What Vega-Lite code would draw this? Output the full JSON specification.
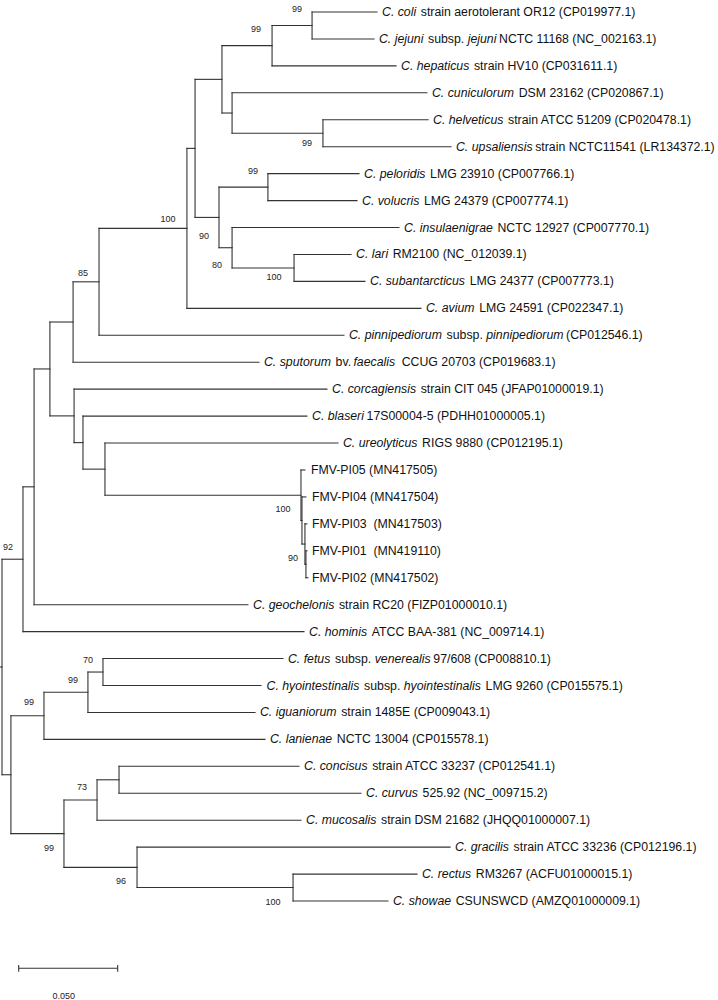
{
"$schema": "https://vega.github.io/schema/vega-lite/v6.json",
"width": 718, "height": 1000, "padding": 0, "autosize": {"type": "none"},
"background": "white",
"config": {"view": {"stroke": null}},
"datasets": {
"nodes": [
{"id":"R","d":0,"pd":-0.0009,"y":25.3125,"y1":21.3125,"y2":29.3125},
{"id":"A92","d":0.0106,"pd":0,"y":21.3125,"y1":18.625,"y2":24},
{"id":"G","d":0.0162,"pd":0.0106,"y":18.625,"y1":14.25,"y2":23},
{"id":"N50","d":0.0242,"pd":0.0162,"y":14.25,"y1":12.5078,"y2":15.9922},
{"id":"N85","d":0.0359,"pd":0.0242,"y":12.5078,"y1":11.0156,"y2":14},
{"id":"P","d":0.0490,"pd":0.0359,"y":11.0156,"y1":9.0313,"y2":13},
{"id":"N100","d":0.0934,"pd":0.0490,"y":9.0313,"y1":6.0625,"y2":12},
{"id":"N195","d":0.0975,"pd":0.0934,"y":6.0625,"y1":3.5,"y2":8.625},
{"id":"N222","d":0.1111,"pd":0.0975,"y":3.5,"y1":2.25,"y2":4.75},
{"id":"N272","d":0.1364,"pd":0.1111,"y":2.25,"y1":1.5,"y2":3},
{"id":"N312","d":0.1566,"pd":0.1364,"y":1.5,"y1":1,"y2":2},
{"id":"coli","d":0.1894,"pd":0.1566,"y":1},
{"id":"jejuni","d":0.1879,"pd":0.1566,"y":2},
{"id":"hepaticus","d":0.1990,"pd":0.1364,"y":3},
{"id":"N232a","d":0.1162,"pd":0.1111,"y":4.75,"y1":4,"y2":5.5},
{"id":"cuniculorum","d":0.2146,"pd":0.1162,"y":4},
{"id":"N323","d":0.1621,"pd":0.1162,"y":5.5,"y1":5,"y2":6},
{"id":"helveticus","d":0.2152,"pd":0.1621,"y":5},
{"id":"upsaliensis","d":0.2268,"pd":0.1621,"y":6},
{"id":"N219","d":0.1096,"pd":0.0975,"y":8.625,"y1":7.5,"y2":9.75},
{"id":"N268","d":0.1343,"pd":0.1096,"y":7.5,"y1":7,"y2":8},
{"id":"peloridis","d":0.1803,"pd":0.1343,"y":7},
{"id":"volucris","d":0.1793,"pd":0.1343,"y":8},
{"id":"N232b","d":0.1162,"pd":0.1096,"y":9.75,"y1":9,"y2":10.5},
{"id":"insulaenigrae","d":0.2005,"pd":0.1162,"y":9},
{"id":"N294","d":0.1475,"pd":0.1162,"y":10.5,"y1":10,"y2":11},
{"id":"lari","d":0.1763,"pd":0.1475,"y":10},
{"id":"subantarcticus","d":0.1833,"pd":0.1475,"y":11},
{"id":"avium","d":0.2116,"pd":0.0934,"y":12},
{"id":"pinnipediorum","d":0.1727,"pd":0.0490,"y":13},
{"id":"sputorum","d":0.1298,"pd":0.0359,"y":14},
{"id":"N74","d":0.0364,"pd":0.0242,"y":15.9922,"y1":15,"y2":16.9844},
{"id":"corcagiensis","d":0.1641,"pd":0.0364,"y":15},
{"id":"N83","d":0.0409,"pd":0.0364,"y":16.9844,"y1":16,"y2":17.9688},
{"id":"blaseri","d":0.1540,"pd":0.0409,"y":16},
{"id":"U","d":0.0520,"pd":0.0409,"y":17.9688,"y1":17,"y2":18.9375},
{"id":"ureolyticus","d":0.1697,"pd":0.0520,"y":17},
{"id":"F1","d":0.1510,"pd":0.0520,"y":18.9375,"y1":18,"y2":19.875},
{"id":"PI05","d":0.1530,"pd":0.1510,"y":18},
{"id":"F2","d":0.1515,"pd":0.1510,"y":19.875,"y1":19,"y2":20.75},
{"id":"PI04","d":0.1535,"pd":0.1515,"y":19},
{"id":"F3","d":0.1530,"pd":0.1515,"y":20.75,"y1":20,"y2":21.5},
{"id":"PI03","d":0.1540,"pd":0.1530,"y":20},
{"id":"F4","d":0.1535,"pd":0.1530,"y":21.5,"y1":21,"y2":22},
{"id":"PI01","d":0.1540,"pd":0.1535,"y":21},
{"id":"PI02","d":0.1545,"pd":0.1535,"y":22},
{"id":"geochelonis","d":0.1242,"pd":0.0162,"y":23},
{"id":"hominis","d":0.1525,"pd":0.0106,"y":24},
{"id":"B","d":0.0045,"pd":0,"y":29.3125,"y1":27.125,"y2":31.5},
{"id":"N44","d":0.0212,"pd":0.0045,"y":27.125,"y1":26.25,"y2":28},
{"id":"N88","d":0.0434,"pd":0.0212,"y":26.25,"y1":25.5,"y2":27},
{"id":"N103","d":0.0510,"pd":0.0434,"y":25.5,"y1":25,"y2":26},
{"id":"fetus","d":0.1419,"pd":0.0510,"y":25},
{"id":"hyointestinalis","d":0.1308,"pd":0.0510,"y":26},
{"id":"iguaniorum","d":0.1278,"pd":0.0434,"y":27},
{"id":"lanienae","d":0.1328,"pd":0.0212,"y":28},
{"id":"N64","d":0.0313,"pd":0.0045,"y":31.5,"y1":30.25,"y2":32.75},
{"id":"N97","d":0.0480,"pd":0.0313,"y":30.25,"y1":29.5,"y2":31},
{"id":"N119","d":0.0591,"pd":0.0480,"y":29.5,"y1":29,"y2":30},
{"id":"concisus","d":0.1500,"pd":0.0591,"y":29},
{"id":"curvus","d":0.1813,"pd":0.0591,"y":30},
{"id":"mucosalis","d":0.1510,"pd":0.0480,"y":31},
{"id":"N137","d":0.0682,"pd":0.0313,"y":32.75,"y1":32,"y2":33.5},
{"id":"gracilis","d":0.2263,"pd":0.0682,"y":32},
{"id":"N293","d":0.1470,"pd":0.0682,"y":33.5,"y1":33,"y2":34},
{"id":"rectus","d":0.2096,"pd":0.1470,"y":33},
{"id":"showae","d":0.1949,"pd":0.1470,"y":34}
],
"labels": [
{"r":1,"x":0.19192,"t":"C. coli","i":1},
{"r":1,"x":0.21151,"t":"strain aerotolerant OR12 (CP019977.1)","i":0},
{"r":2,"x":0.19040,"t":"C. jejuni","i":1},
{"r":2,"x":0.21517,"t":"subsp.","i":0},
{"r":2,"x":0.23520,"t":"jejuni","i":1},
{"r":2,"x":0.25102,"t":"NCTC 11168 (NC_002163.1)","i":0},
{"r":3,"x":0.20152,"t":"C. hepaticus","i":1},
{"r":3,"x":0.23837,"t":"strain HV10 (CP031611.1)","i":0},
{"r":4,"x":0.21717,"t":"C. cuniculorum","i":1},
{"r":4,"x":0.26093,"t":"DSM 23162 (CP020867.1)","i":0},
{"r":5,"x":0.21768,"t":"C. helveticus","i":1},
{"r":5,"x":0.25557,"t":"strain ATCC 51209 (CP020478.1)","i":0},
{"r":6,"x":0.22929,"t":"C. upsaliensis","i":1},
{"r":6,"x":0.26928,"t":"strain NCTC11541 (LR134372.1)","i":0},
{"r":7,"x":0.18283,"t":"C. peloridis","i":1},
{"r":7,"x":0.21622,"t":"LMG 23910 (CP007766.1)","i":0},
{"r":8,"x":0.18182,"t":"C. volucris","i":1},
{"r":8,"x":0.21314,"t":"LMG 24379 (CP007774.1)","i":0},
{"r":9,"x":0.20303,"t":"C. insulaenigrae","i":1},
{"r":9,"x":0.25024,"t":"NCTC 12927 (CP007770.1)","i":0},
{"r":10,"x":0.17879,"t":"C. lari","i":1},
{"r":10,"x":0.19734,"t":"RM2100 (NC_012039.1)","i":0},
{"r":11,"x":0.18586,"t":"C. subantarcticus","i":1},
{"r":11,"x":0.23618,"t":"LMG 24377 (CP007773.1)","i":0},
{"r":12,"x":0.21414,"t":"C. avium","i":1},
{"r":12,"x":0.24098,"t":"LMG 24591 (CP022347.1)","i":0},
{"r":13,"x":0.17525,"t":"C. pinnipediorum","i":1},
{"r":13,"x":0.22453,"t":"subsp.","i":0},
{"r":13,"x":0.24456,"t":"pinnipediorum","i":1},
{"r":13,"x":0.28489,"t":"(CP012546.1)","i":0},
{"r":14,"x":0.13232,"t":"C. sputorum","i":1},
{"r":14,"x":0.16849,"t":"bv.","i":0},
{"r":14,"x":0.17749,"t":"faecalis","i":1},
{"r":14,"x":0.20188,"t":"CCUG 20703 (CP019683.1)","i":0},
{"r":15,"x":0.16667,"t":"C. corcagiensis","i":1},
{"r":15,"x":0.21146,"t":"strain CIT 045 (JFAP01000019.1)","i":0},
{"r":16,"x":0.15657,"t":"C. blaseri","i":1},
{"r":16,"x":0.18412,"t":"17S00004-5 (PDHH01000005.1)","i":0},
{"r":17,"x":0.17222,"t":"C. ureolyticus","i":1},
{"r":17,"x":0.21218,"t":"RIGS 9880 (CP012195.1)","i":0},
{"r":18,"x":0.15606,"t":"FMV-PI05 (MN417505)","i":0},
{"r":19,"x":0.15657,"t":"FMV-PI04 (MN417504)","i":0},
{"r":20,"x":0.15657,"t":"FMV-PI03\u00a0 (MN417503)","i":0},
{"r":21,"x":0.15657,"t":"FMV-PI01\u00a0 (MN419110)","i":0},
{"r":22,"x":0.15657,"t":"FMV-PI02 (MN417502)","i":0},
{"r":23,"x":0.12677,"t":"C. geochelonis","i":1},
{"r":23,"x":0.17018,"t":"strain RC20 (FIZP01000010.1)","i":0},
{"r":24,"x":0.15505,"t":"C. hominis","i":1},
{"r":24,"x":0.18672,"t":"ATCC BAA-381 (NC_009714.1)","i":0},
{"r":25,"x":0.14444,"t":"C. fetus","i":1},
{"r":25,"x":0.16818,"t":"subsp.","i":0},
{"r":25,"x":0.18821,"t":"venerealis","i":1},
{"r":25,"x":0.21784,"t":"97/608 (CP008810.1)","i":0},
{"r":26,"x":0.13359,"t":"C. hyointestinalis","i":1},
{"r":26,"x":0.18287,"t":"subsp.","i":0},
{"r":26,"x":0.20290,"t":"hyointestinalis","i":1},
{"r":26,"x":0.24423,"t":"LMG 9260 (CP015575.1)","i":0},
{"r":27,"x":0.13030,"t":"C. iguaniorum","i":1},
{"r":27,"x":0.17130,"t":"strain 1485E (CP009043.1)","i":0},
{"r":28,"x":0.13535,"t":"C. lanienae","i":1},
{"r":28,"x":0.16910,"t":"NCTC 13004 (CP015578.1)","i":0},
{"r":29,"x":0.15253,"t":"C. concisus","i":1},
{"r":29,"x":0.18696,"t":"strain ATCC 33237 (CP012541.1)","i":0},
{"r":30,"x":0.18384,"t":"C. curvus","i":1},
{"r":30,"x":0.21240,"t":"525.92 (NC_009715.2)","i":0},
{"r":31,"x":0.15354,"t":"C. mucosalis","i":1},
{"r":31,"x":0.19141,"t":"strain DSM 21682 (JHQQ01000007.1)","i":0},
{"r":32,"x":0.22879,"t":"C. gracilis","i":1},
{"r":32,"x":0.25838,"t":"strain ATCC 33236 (CP012196.1)","i":0},
{"r":33,"x":0.21212,"t":"C. rectus","i":1},
{"r":33,"x":0.23930,"t":"RM3267 (ACFU01000015.1)","i":0},
{"r":34,"x":0.19747,"t":"C. showae","i":1},
{"r":34,"x":0.22915,"t":"CSUNSWCD (AMZQ01000009.1)","i":0}
],
"boot": [
{"x":0.14899,"y":0.889,"v":"99"},
{"x":0.12828,"y":1.631,"v":"99"},
{"x":0.15404,"y":5.863,"v":"99"},
{"x":0.12677,"y":6.902,"v":"99"},
{"x":0.08384,"y":8.684,"v":"100"},
{"x":0.10202,"y":9.315,"v":"90"},
{"x":0.10859,"y":10.391,"v":"80"},
{"x":0.13737,"y":10.837,"v":"100"},
{"x":0.04091,"y":10.688,"v":"85"},
{"x":0.14192,"y":19.449,"v":"100"},
{"x":0.14697,"y":21.267,"v":"90"},
{"x":0.00303,"y":20.859,"v":"92"},
{"x":0.04343,"y":25.053,"v":"70"},
{"x":0.03586,"y":25.796,"v":"99"},
{"x":0.01364,"y":26.612,"v":"99"},
{"x":0.04040,"y":29.768,"v":"73"},
{"x":0.02374,"y":32.032,"v":"99"},
{"x":0.06010,"y":33.257,"v":"96"},
{"x":0.13687,"y":34.036,"v":"100"}
],
"bar": [
{"x1":0.00843,"x2":0.05843,"y":36.497,"ylo":36.374,"yhi":36.623,"lx":0.03116,"ly":37.526,"label":"0.050"}
]
},
"layer": [
{"data":{"name":"nodes"},"transform":[{"filter":"datum.pd != null"}],
 "mark":{"type":"rule","color":"#333333","strokeWidth":1.1,"strokeCap":"square"},
 "encoding":{
  "x":{"field":"pd","type":"quantitative","scale":{"domain":[-0.00101,0.36162],"nice":false,"zero":false},"axis":null},
  "x2":{"field":"d"},
  "y":{"field":"y","type":"quantitative","scale":{"domain":[0.5546,37.674],"reverse":true,"nice":false,"zero":false},"axis":null}}},
{"data":{"name":"nodes"},"transform":[{"filter":"datum.y1 != null"}],
 "mark":{"type":"rule","color":"#333333","strokeWidth":1.1,"strokeCap":"square"},
 "encoding":{
  "x":{"field":"d","type":"quantitative","scale":{"domain":[-0.00101,0.36162],"nice":false,"zero":false},"axis":null},
  "y":{"field":"y1","type":"quantitative","scale":{"domain":[0.5546,37.674],"reverse":true,"nice":false,"zero":false},"axis":null},
  "y2":{"field":"y2"}}},
{"data":{"name":"labels"},"transform":[{"filter":"datum.i == 1"}],
 "mark":{"type":"text","align":"left","baseline":"middle","font":"Liberation Sans","fontSize":12.3,"fontStyle":"italic","color":"#111111"},
 "encoding":{
  "x":{"field":"x","type":"quantitative","scale":{"domain":[-0.00101,0.36162],"nice":false,"zero":false},"axis":null},
  "y":{"field":"r","type":"quantitative","scale":{"domain":[0.5546,37.674],"reverse":true,"nice":false,"zero":false},"axis":null},
  "text":{"field":"t"}}},
{"data":{"name":"labels"},"transform":[{"filter":"datum.i == 0"}],
 "mark":{"type":"text","align":"left","baseline":"middle","font":"Liberation Sans","fontSize":12.3,"color":"#111111"},
 "encoding":{
  "x":{"field":"x","type":"quantitative","scale":{"domain":[-0.00101,0.36162],"nice":false,"zero":false},"axis":null},
  "y":{"field":"r","type":"quantitative","scale":{"domain":[0.5546,37.674],"reverse":true,"nice":false,"zero":false},"axis":null},
  "text":{"field":"t"}}},
{"data":{"name":"boot"},
 "mark":{"type":"text","align":"center","baseline":"middle","font":"Liberation Sans","fontSize":9,"color":"#222222"},
 "encoding":{
  "x":{"field":"x","type":"quantitative","scale":{"domain":[-0.00101,0.36162],"nice":false,"zero":false},"axis":null},
  "y":{"field":"y","type":"quantitative","scale":{"domain":[0.5546,37.674],"reverse":true,"nice":false,"zero":false},"axis":null},
  "text":{"field":"v"}}},
{"data":{"name":"bar"},
 "mark":{"type":"rule","color":"#333333","strokeWidth":1.1},
 "encoding":{
  "x":{"field":"x1","type":"quantitative","scale":{"domain":[-0.00101,0.36162],"nice":false,"zero":false},"axis":null},
  "x2":{"field":"x2"},
  "y":{"field":"y","type":"quantitative","scale":{"domain":[0.5546,37.674],"reverse":true,"nice":false,"zero":false},"axis":null}}},
{"data":{"name":"bar"},
 "mark":{"type":"rule","color":"#333333","strokeWidth":1.1},
 "encoding":{
  "x":{"field":"x1","type":"quantitative","scale":{"domain":[-0.00101,0.36162],"nice":false,"zero":false},"axis":null},
  "y":{"field":"ylo","type":"quantitative","scale":{"domain":[0.5546,37.674],"reverse":true,"nice":false,"zero":false},"axis":null},
  "y2":{"field":"yhi"}}},
{"data":{"name":"bar"},
 "mark":{"type":"rule","color":"#333333","strokeWidth":1.1},
 "encoding":{
  "x":{"field":"x2","type":"quantitative","scale":{"domain":[-0.00101,0.36162],"nice":false,"zero":false},"axis":null},
  "y":{"field":"ylo","type":"quantitative","scale":{"domain":[0.5546,37.674],"reverse":true,"nice":false,"zero":false},"axis":null},
  "y2":{"field":"yhi"}}},
{"data":{"name":"bar"},
 "mark":{"type":"text","align":"center","baseline":"middle","font":"Liberation Sans","fontSize":9,"color":"#222222"},
 "encoding":{
  "x":{"field":"lx","type":"quantitative","scale":{"domain":[-0.00101,0.36162],"nice":false,"zero":false},"axis":null},
  "y":{"field":"ly","type":"quantitative","scale":{"domain":[0.5546,37.674],"reverse":true,"nice":false,"zero":false},"axis":null},
  "text":{"field":"label"}}}
]
}
